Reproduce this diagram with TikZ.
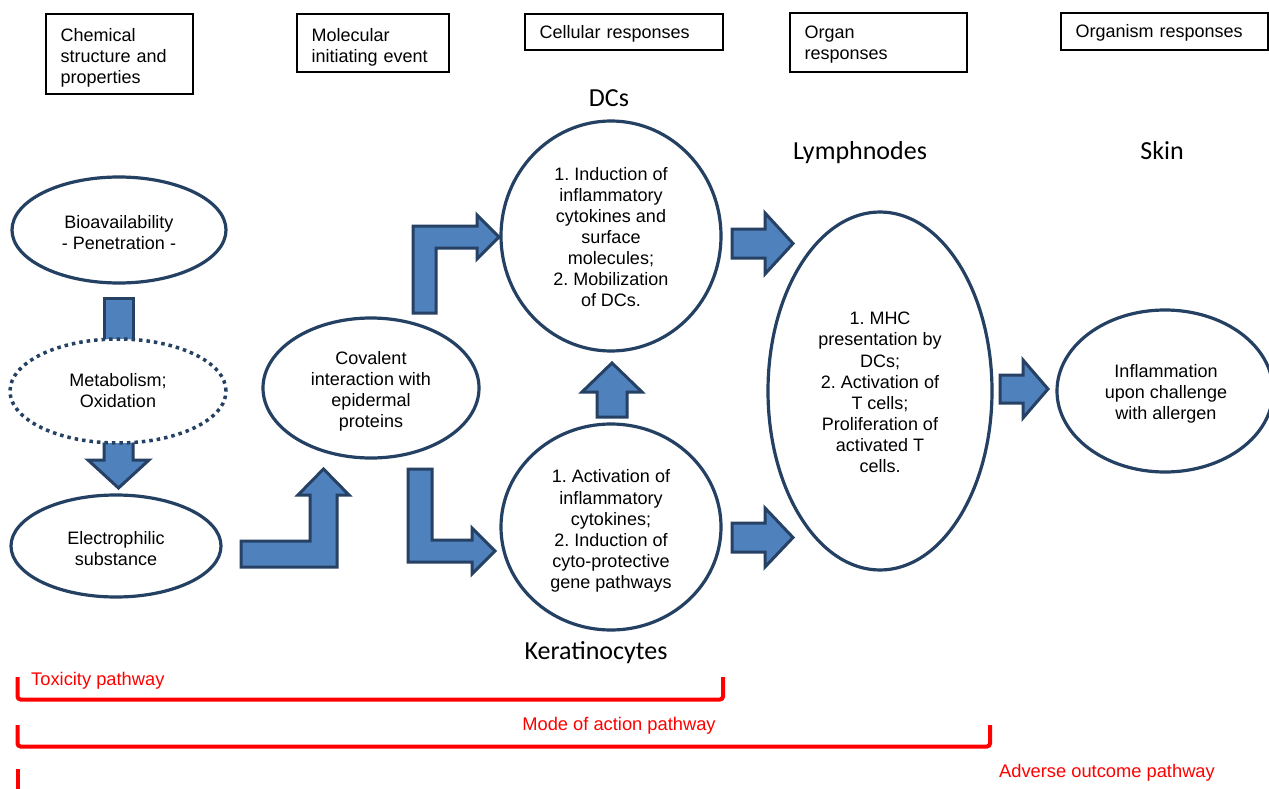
\documentclass[tikz,border=0pt]{standalone}
\usepackage{fontspec}
\setmainfont{Liberation Sans}
\newfontfamily\calib{Carlito}
\usetikzlibrary{shapes.geometric}
\definecolor{ellline}{RGB}{36,64,98}
\definecolor{arrfill}{RGB}{79,129,189}
\definecolor{arrline}{RGB}{38,65,100}
\frenchspacing
\begin{document}
\begin{tikzpicture}[x=1pt,y=-1pt,
  hframe/.style={draw=black, line width=1.2pt, inner sep=0pt},
  htext/.style={anchor=north west, inner sep=0pt, align=left, font=\fontsize{18}{21}\selectfont},
  ell/.style={ellipse, draw=ellline, line width=3.2pt, fill=white, inner sep=0pt},
  etext/.style={align=center, inner sep=0pt, font=\fontsize{18}{21.1}\selectfont},
  blk/.style={fill=arrfill, draw=arrline, line width=3pt, line join=miter},
  lbl/.style={font=\calib\fontsize{26}{30}\selectfont, anchor=base, inner sep=0pt},
  redtxt/.style={text=red, font=\fontsize{18.3}{21}\selectfont, anchor=base, inner sep=0pt},
  redbr/.style={draw=red, line width=4pt, rounded corners=3pt}
]
\useasboundingbox (0,0) rectangle (1269,789);
\fill[white] (0,0) rectangle (1269,789);

% header boxes
\node[hframe, minimum width=147pt, minimum height=80pt] (h1) at (119.5,54) {};
\node[htext, text width=125pt, xshift=15pt, yshift=-14.5pt] (h1t) at (h1.north west) {Chemical\\structure and\\properties};
\node[hframe, minimum width=152pt, minimum height=58pt] (h2) at (373,43) {};
\node[htext, text width=130pt, xshift=15pt, yshift=-14.5pt] (h2t) at (h2.north west) {Molecular\\initiating event};
\node[hframe, minimum width=198pt, minimum height=36pt] (h3) at (624,32) {};
\node[htext, text width=175pt, xshift=15pt, yshift=-11.5pt] (h3t) at (h3.north west) {Cellular responses};
\node[hframe, minimum width=177pt, minimum height=59pt] (h4) at (878.5,42.5) {};
\node[htext, text width=155pt, xshift=15pt, yshift=-13pt] (h4t) at (h4.north west) {Organ\\responses};
\node[hframe, minimum width=207pt, minimum height=37pt] (h5) at (1164.5,31.5) {};
\node[htext, text width=185pt, xshift=15pt, yshift=-12pt] (h5t) at (h5.north west) {Organism responses};

% labels
\node[lbl] (ldc) at (609,107) {DCs};
\node[lbl] (lly) at (860,159.5) {Lymphnodes};
\node[lbl] (lsk) at (1162,159.5) {Skin};
\node[lbl] (lke) at (596,659) {Keratinocytes};

% block arrows (drawn under the ellipses)
\draw[blk] (104,298) -- (133,298) -- (133,345) -- (104,345) -- cycle;
\draw[blk] (104,430) -- (104,460) -- (88,460) -- (118.5,488) -- (149,460) -- (133,460) -- (133,430) -- cycle;
\draw[blk] (241,541) -- (310,541) -- (310,495) -- (298,495) -- (323.5,469) -- (349,495) -- (337,495) -- (337,567) -- (241,567) -- cycle;
\draw[blk] (413,313) -- (413,226) -- (477,226) -- (477,215) -- (499,237) -- (477,259) -- (477,248) -- (436,248) -- (436,313) -- cycle;
\draw[blk] (408,469) -- (432,469) -- (432,540) -- (472,540) -- (472,528) -- (495,551) -- (472,574) -- (472,562) -- (408,562) -- cycle;
\draw[blk] (597,417) -- (597,392) -- (582,392) -- (612,363) -- (642,392) -- (627,392) -- (627,417) -- cycle;
\draw[blk] (732,229) -- (765,229) -- (765,213) -- (793,243.5) -- (765,274) -- (765,258) -- (732,258) -- cycle;
\draw[blk] (732,523) -- (765,523) -- (765,508) -- (793,537.5) -- (765,567) -- (765,552) -- (732,552) -- cycle;
\draw[blk] (1000,375) -- (1023,375) -- (1023,360) -- (1048,389) -- (1023,418) -- (1023,403) -- (1000,403) -- cycle;

% ellipses
\node[ell, minimum width=214pt, minimum height=106pt] (bio) at (119,230) {};
\node[etext, yshift=-3pt] (biot) at (bio.center) {Bioavailability\\- Penetration -};
\node[ell, minimum width=216pt, minimum height=104pt, line width=3.5pt, dash pattern=on 3.5pt off 4pt] (met) at (118,391) {};
\node[etext] (mett) at (met.center) {Metabolism;\\Oxidation};
\node[ell, minimum width=210pt, minimum height=102pt] (elec) at (116,546) {};
\node[etext, yshift=-2.5pt] (elect) at (elec.center) {Electrophilic\\substance};
\node[ell, minimum width=216pt, minimum height=140pt] (cov) at (371,388) {};
\node[etext, yshift=-3pt] (covt) at (cov.center) {Covalent\\interaction with\\epidermal\\proteins};
\node[ell, minimum width=220pt, minimum height=230pt] (dcs) at (611,236) {};
\node[etext, yshift=-1pt] (dcst) at (dcs.center) {1. Induction of\\inflammatory\\cytokines and\\surface\\molecules;\\2. Mobilization\\of DCs.};
\node[ell, minimum width=220pt, minimum height=206pt] (ker) at (611,527) {};
\node[etext, yshift=-4pt] (kert) at (ker.center) {1. Activation of\\inflammatory\\cytokines;\\2. Induction of\\cyto-protective\\gene pathways};
\node[ell, minimum width=224pt, minimum height=358pt] (lym) at (880,391) {};
\node[etext, yshift=-1.5pt] (lymt) at (lym.center) {1. MHC\\presentation by\\DCs;\\2. Activation of\\T cells;\\Proliferation of\\activated T\\cells.};
\node[ell, minimum width=216pt, minimum height=162pt] (inf) at (1165,391) {};
\node[etext, yshift=-3pt, xshift=1pt] (inft) at (inf.center) {Inflammation\\upon challenge\\with allergen};

% pathway brackets
\draw[redbr] (17.5,677) -- (17.5,699.5) -- (723,699.5) -- (723,677);
\draw[redbr] (17.5,725) -- (17.5,746.5) -- (990,746.5) -- (990,725);
\draw[redbr] (17.5,769) -- (17.5,795);
\node[redtxt, anchor=base west] (tox) at (31,685) {Toxicity pathway};
\node[redtxt] (moa) at (619,730) {Mode of action pathway};
\node[redtxt] (aop) at (1107,777) {Adverse outcome pathway};
\end{tikzpicture}
\end{document}
